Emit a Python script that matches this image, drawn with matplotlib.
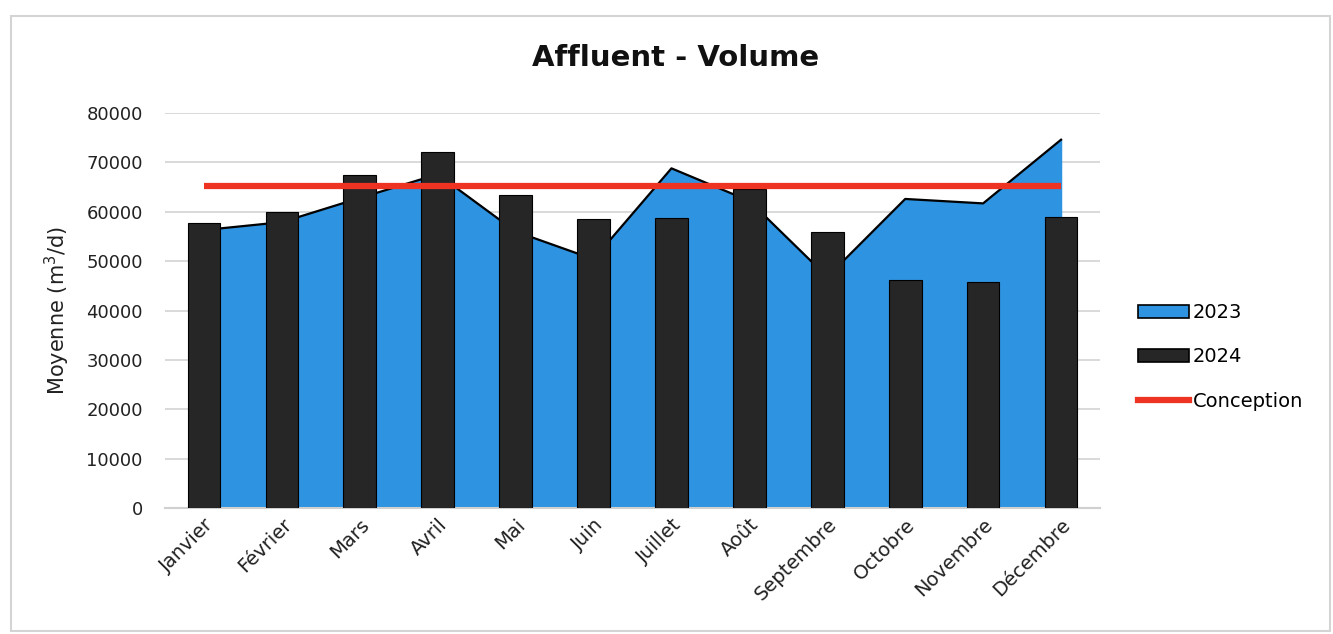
import matplotlib.pyplot as plt
import matplotlib.patches as mpatches
from matplotlib.lines import Line2D
import numpy as np

plt.rcParams['font.family'] = ['DejaVu Sans']

mois = ['Janvier', 'Février', 'Mars', 'Avril', 'Mai', 'Juin', 'Juillet',
        'Août', 'Septembre', 'Octobre', 'Novembre', 'Décembre']
vol_2023 = [56300, 57900, 62800, 67600, 56000, 50400, 68800,
            62200, 46800, 62600, 61700, 74600]
vol_2024 = [57700, 59900, 67400, 72100, 63400, 58500, 58700,
            64700, 55900, 46100, 45800, 58900]
conception = [65200] * 12
y_ticks = [0, 10000, 20000, 30000, 40000, 50000, 60000, 70000, 80000]

BLUE = '#2E93E0'
DARK = '#262626'
RED = '#EE3322'

fig = plt.figure(figsize=(13.33, 6.34), dpi=100)
ax = fig.add_axes([0.1238, 0.1987, 0.7014, 0.623])

x = np.arange(len(mois))

ax.fill_between(x, vol_2023, 0, color=BLUE, zorder=2)
ax.plot(x, vol_2023, color='black', lw=1.6, zorder=2.1)
ax.bar(x, vol_2024, width=0.42, color=DARK, edgecolor='black', lw=0.8, zorder=3)
ax.plot(x, conception, color=RED, lw=4.5, zorder=4, solid_capstyle='butt')

ax.set_xlim(-0.5, 11.5)
ax.set_ylim(0, 80000)
ax.set_yticks(y_ticks)
ax.set_yticklabels([str(v) for v in y_ticks], fontsize=13, color='#222222')
ax.set_xticks(x)
ax.set_xticklabels(mois, rotation=45, ha='right', rotation_mode='anchor',
                   fontsize=14, color='#222222')
ax.tick_params(axis='y', length=0, pad=16)
ax.tick_params(axis='x', length=0, pad=5)
ax.grid(axis='y', color='#D9D9D9', lw=1.4, zorder=0)
ax.set_axisbelow(True)
for s in ['top', 'right', 'left']:
    ax.spines[s].set_visible(False)
ax.spines['bottom'].set_color('#D0D0D0')
ax.spines['bottom'].set_linewidth(1.5)

ax.set_ylabel('Moyenne (m$^3$/d)', fontsize=15, color='#222222', labelpad=10)
fig.text(0.507, 0.908, 'Affluent - Volume', ha='center', va='center',
         fontsize=21, fontweight='bold', color='#111111')

handles = [mpatches.Patch(facecolor=BLUE, edgecolor='black', lw=1.2),
           mpatches.Patch(facecolor=DARK, edgecolor='black', lw=1.2),
           Line2D([0], [0], color=RED, lw=4.5)]
fig.legend(handles, ['2023', '2024', 'Conception'], loc='center left',
           bbox_to_anchor=(0.848, 0.437), frameon=False, fontsize=14,
           handlelength=2.6, handleheight=0.7, handletextpad=0.2,
           labelspacing=1.3, borderaxespad=0)

fig.patches.append(mpatches.Rectangle((0.008, 0.005), 0.99, 0.97,
                                      transform=fig.transFigure, fill=False,
                                      edgecolor='#D4D4D4', lw=1.5))

fig.savefig('out.png', dpi=100)
